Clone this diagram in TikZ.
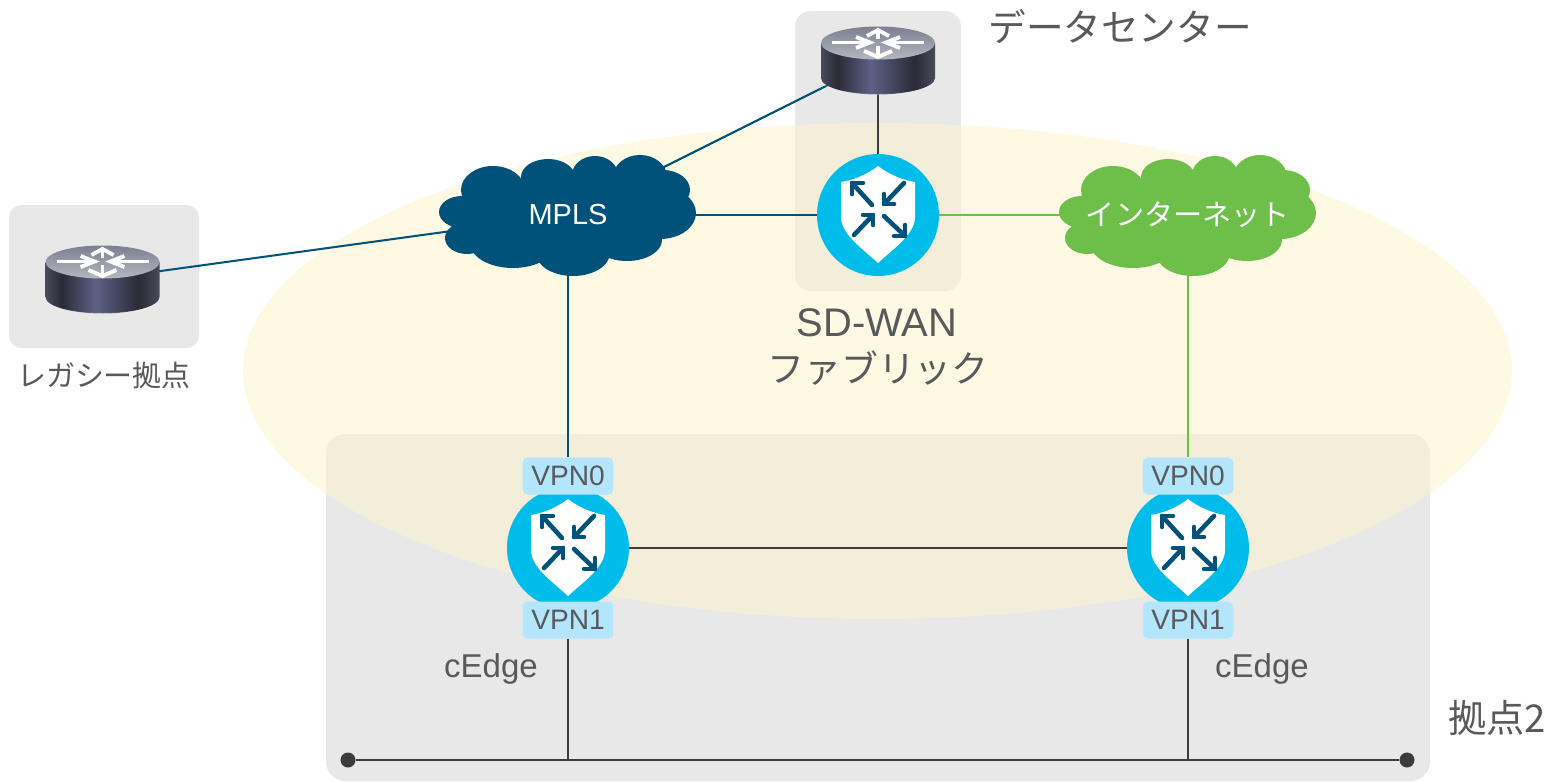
\documentclass[tikz,border=0pt]{standalone}
\usepackage{fontspec}
\setmainfont{Liberation Sans}
\newfontfamily\jpfont{Noto Sans CJK JP}
\usetikzlibrary{backgrounds}
\definecolor{panelgrey}{HTML}{E8E8E8}
\definecolor{fabricyellow}{HTML}{FBF4CF}
\definecolor{mplsblue}{HTML}{00527A}
\definecolor{inetgreen}{HTML}{6EBE4A}
\definecolor{edgecyan}{HTML}{00BCEB}
\definecolor{tagblue}{HTML}{B3E6FD}
\definecolor{labelgrey}{HTML}{58595B}
\definecolor{linedark}{HTML}{3C3C3C}
\definecolor{routerA}{HTML}{4A4B5A}
\definecolor{routerB}{HTML}{2A2B36}
\definecolor{routerC}{HTML}{5D6186}
\definecolor{routerD}{HTML}{B4B7C0}
\definecolor{routerE}{HTML}{7C7F91}
\pgfdeclarelayer{panels}
\pgfdeclarelayer{links}
\pgfsetlayers{panels,links,main}
\pgfdeclarehorizontalshading{routerside}{100bp}{color(0bp)=(routerA); color(25bp)=(routerA); color(32bp)=(routerB); color(47bp)=(routerC); color(66bp)=(routerB); color(75bp)=(routerA); color(100bp)=(routerA)}
\pgfdeclareverticalshading{routertop}{100bp}{color(0bp)=(routerD); color(25bp)=(routerD); color(75bp)=(routerE); color(100bp)=(routerE)}
\tikzstyle{panel} = [fill=panelgrey]
\tikzstyle{link} = [line width=1.15pt]
\tikzstyle{disc} = [circle, fill=edgecyan, inner sep=0pt, minimum size=2.44cm]
\tikzstyle{vpntag} = [fill=tagblue, rounded corners=3pt, inner sep=0pt, minimum width=1.82cm, minimum height=0.74cm, text=labelgrey, font=\fontsize{16}{16}\selectfont]
\tikzstyle{spot} = [inner sep=0pt, minimum size=0pt]
\tikzstyle{caption} = [text=labelgrey, inner sep=0pt]
\tikzstyle{cloudtext} = [text=white, inner sep=0pt]
\tikzstyle{busend} = [circle, fill=linedark, inner sep=0pt, minimum size=0.3cm]
\tikzset{
	pics/router/.style={code={
		\shade[shading=routerside] (-57,-17) -- (-57,18) arc[start angle=180, end angle=0, x radius=57, y radius=16.5] -- (57,-17) -- cycle;
		\draw[white, opacity=0.25, line width=0.5pt] (-55,24) arc[start angle=165, end angle=15, x radius=57, y radius=14];
		\shade[shading=routertop] (0,-17) ellipse[x radius=57, y radius=16.5];
		\foreach \sx/\sy/\tx/\ty/\ux/\uy/\vx/\vy in {-46/-17.5/-8/-17.5/-22/-23/-22/-12, 46/-17.5/8/-17.5/22/-23/22/-12, 0/-21/0/-30/-11/-24/11/-24, 0/-14/0/-3/-14/-9/14/-9}{
			\draw[white, line width=2.2pt] (\sx,\sy) -- (\tx,\ty);
			\draw[white, line width=2.2pt, line join=miter] (\ux,\uy) -- (\tx,\ty) -- (\vx,\vy);
		}
	}},
	pics/shield/.style={code={
		\fill[white] (0,-49) .. controls (-10,-41) and (-24,-35) .. (-37,-33) -- (-37,3) .. controls (-36,20) and (-15,34) .. (0,48) .. controls (15,34) and (36,20) .. (37,3) -- (37,-33) .. controls (24,-35) and (10,-41) .. (0,-49) -- cycle;
		\foreach \sx/\sy/\tx/\ty/\ux/\uy/\vx/\vy in {-6/-10/-26/-32/-15/-32/-26/-21, 26/-32/6/-11/6/-21/16/-11, -24/20/-5/0/-15/0/-5/10, 6/1/27/21/27/10/16/21}{
			\draw[mplsblue, line width=2.6pt, line cap=round] (\sx,\sy) -- (\tx,\ty);
			\draw[mplsblue, line width=2.6pt, line cap=round, line join=round] (\ux,\uy) -- (\tx,\ty) -- (\vx,\vy);
		}
	}},
	pics/cloud/.style={code={
		\fill[#1] (0,0) ellipse[x radius=100, y radius=40]
			(-106,-3) ellipse[x radius=23, y radius=16]
			(-101,23) ellipse[x radius=22, y radius=16]
			(-75,-25) ellipse[x radius=32, y radius=24]
			(-20,-38) ellipse[x radius=27, y radius=18]
			(27,-40) ellipse[x radius=23, y radius=19]
			(72,-38) ellipse[x radius=27, y radius=22]
			(95,-25) ellipse[x radius=27, y radius=20]
			(92,-2) ellipse[x radius=36, y radius=26]
			(59,25) ellipse[x radius=35, y radius=21]
			(5,38) ellipse[x radius=37, y radius=23]
			(-55,28) ellipse[x radius=43, y radius=25];
		\fill[#1] (-90,-20) rectangle (90,25);
	}}
}
\begin{document}
\begin{tikzpicture}[x=0.02cm, y=-0.02cm]
	\useasboundingbox (0,0) rectangle (1548,781);

	\begin{pgfonlayer}{panels}
		\fill[panel, rounded corners=9pt] (795,11) rectangle (961,291);
		\fill[panel, rounded corners=7pt] (9,205) rectangle (199,348);
		\fill[panel, rounded corners=11pt] (326,434) rectangle (1430,781);
		\fill[fabricyellow, opacity=0.58] (877.5,371) ellipse[x radius=634.5, y radius=248];
	\end{pgfonlayer}

	\pic at (568,215) {cloud=mplsblue};
	\pic at (1188,215) {cloud=inetgreen};
	\node[cloudtext, font=\fontsize{16.5}{16.5}\selectfont] (mpls) at (568,215) {MPLS};
	\node[cloudtext, font=\fontsize{16.6}{16.6}\jpfont] (inet) at (1188,215) {インターネット};

	\node[spot] (dcrouter) at (878,60) {};
	\node[spot] (legacyrouter) at (102.5,279) {};
	\pic at (dcrouter) {router};
	\pic at (legacyrouter) {router};

	\node[disc] (dcedge) at (878,215) {};
	\node[disc] (edgea) at (568,548) {};
	\node[disc] (edgeb) at (1188,548) {};
	\pic at (dcedge) {shield};
	\pic at (edgea) {shield};
	\pic at (edgeb) {shield};

	\node[vpntag] (vpnazero) at (568,476) {VPN0};
	\node[vpntag] (vpnaone) at (568,620) {VPN1};
	\node[vpntag] (vpnbzero) at (1188,476) {VPN0};
	\node[vpntag] (vpnbone) at (1188,620) {VPN1};

	\node[busend] (busleft) at (348,760) {};
	\node[busend] (busright) at (1407,760) {};
	\coordinate (busa) at (568,760);
	\coordinate (busb) at (1188,760);

	\begin{pgfonlayer}{links}
		\draw[link, mplsblue] (mpls) -- (dcrouter);
		\draw[link, mplsblue] (mpls) -- (legacyrouter);
		\draw[link, mplsblue] (mpls) -- (dcedge);
		\draw[link, mplsblue] (mpls) -- (vpnazero);
		\draw[link, inetgreen] (dcedge) -- (inet);
		\draw[link, inetgreen] (inet) -- (vpnbzero);
		\draw[link, linedark] (dcrouter) -- (dcedge);
		\draw[link, linedark] (edgea) -- (edgeb);
		\draw[link, linedark] (vpnaone) -- (busa);
		\draw[link, linedark] (vpnbone) -- (busb);
		\draw[link, linedark] (busleft) -- (busright);
	\end{pgfonlayer}

	\node[caption, font=\fontsize{21.4}{21.4}\jpfont] (dclabel) at (1120,27) {データセンター};
	\node[caption, font=\fontsize{16.5}{16.5}\jpfont] (legacylabel) at (104,375) {レガシー拠点};
	\node[caption, font=\fontsize{22.7}{22.7}\selectfont] (fabriclabel) at (877,323) {SD-WAN};
	\node[caption, font=\fontsize{21}{21}\jpfont] (fabriclabeljp) at (878,368) {ファブリック};
	\node[caption, font=\fontsize{18.8}{18.8}\selectfont] (cedgea) at (491,669) {cEdge};
	\node[caption, font=\fontsize{18.8}{18.8}\selectfont] (cedgeb) at (1262,669) {cEdge};
	\node[caption, font=\fontsize{21.8}{21.8}\jpfont] (sitelabel) at (1497,718) {拠点2};
\end{tikzpicture}
\end{document}
